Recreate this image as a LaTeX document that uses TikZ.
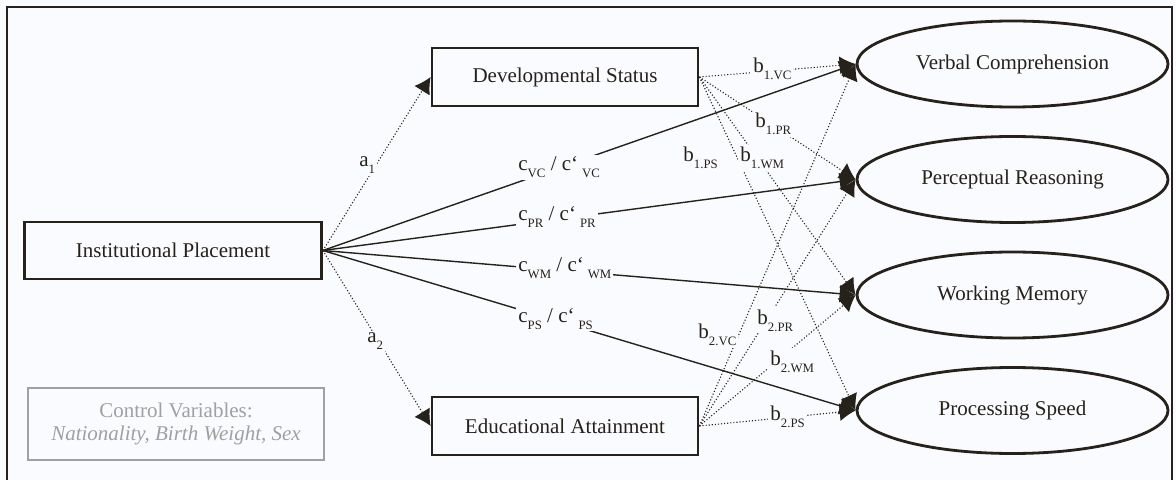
\documentclass[tikz,border=0pt]{standalone}
\usepackage{fontspec}
\setmainfont{Liberation Serif}
\usetikzlibrary{arrows.meta,shapes.geometric}
\definecolor{ink}{RGB}{38,33,26}
\definecolor{ctrlgray}{RGB}{160,160,160}
\definecolor{paper}{RGB}{250,251,254}
\newcommand\lowsub[1]{\raisebox{-3.5pt}{\fontsize{6.4}{7}\selectfont #1}}
\begin{document}
\begin{tikzpicture}[x=0.5pt, y=-0.5pt,
  font=\fontsize{10.5}{12}\selectfont,
  var/.style={rectangle, draw=ink, line width=1.4pt, fill=paper, text=ink, minimum width=133pt, minimum height=29pt},
  factor/.style={ellipse, draw=ink, line width=1.4pt, fill=paper, text=ink, minimum width=155.5pt, minimum height=43pt},
  direct/.style={-{Latex[length=8pt,width=9pt]}, draw=ink, line width=0.7pt},
  indirect/.style={-{Latex[length=8pt,width=9pt]}, draw=ink, line width=0.55pt, densely dotted},
  coef/.style={fill=paper, text=ink, inner sep=1pt, anchor=base west}
]
\useasboundingbox[fill=paper] (0,0) rectangle (1176,480);
\draw[ink, line width=1.3pt] (7,480) -- (7,7) -- (1172,7) -- (1172,480);

% Predictor and mediators
\node[var, minimum width=148.5pt, minimum height=28.5pt] (ip) at (173,250.5) {Institutional Placement};
\node[var] (dev) at (565,77) {Developmental Status};
\node[var] (edu) at (565,426) {Educational Attainment};

% Outcomes
\node[factor] (vc) at (1012.5,64) {Verbal Comprehension};
\node[factor] (pr) at (1012.5,179.5) {Perceptual Reasoning};
\node[factor] (wm) at (1012.5,295) {Working Memory};
\node[factor] (ps) at (1012.5,410.5) {Processing Speed};

% Controls
\node[rectangle, draw=ctrlgray, line width=1.2pt, text=ctrlgray, minimum width=148pt, minimum height=36pt,
  align=center, font=\fontsize{10.5}{11.5}\selectfont] (ctrl) at (176,424)
  {Control Variables:\\\textit{Nationality, Birth Weight, Sex}};

% a paths
\draw[indirect] (ip.east) -- (dev.west);
\draw[indirect] (ip.east) -- (edu.west);

% c paths
\draw[direct] (ip.east) -- (vc.west);
\draw[direct] (ip.east) -- (pr.west);
\draw[direct] (ip.east) -- (wm.west);
\draw[direct] (ip.east) -- (ps.west);

% b paths
\draw[indirect] (dev.east) -- (vc.west);
\draw[indirect] (dev.east) -- (pr.west);
\draw[indirect] (dev.east) -- (wm.west);
\draw[indirect] (dev.east) -- (ps.west);
\draw[indirect] (edu.east) -- (vc.west);
\draw[indirect] (edu.east) -- (pr.west);
\draw[indirect] (edu.east) -- (wm.west);
\draw[indirect] (edu.east) -- (ps.west);

% Coefficients
\node[coef] (a1) at (357,167) {a\lowsub{1}};
\node[coef] (a2) at (365,343) {a\lowsub{2}};
\node[coef] (cvc) at (516,171) {c\lowsub{VC} / c‘\kern2pt\lowsub{VC}};
\node[coef] (cpr) at (516,221) {c\lowsub{PR} / c‘\kern2pt\lowsub{PR}};
\node[coef] (cwm) at (516,272) {c\lowsub{WM} / c‘\kern2pt\lowsub{WM}};
\node[coef] (cps) at (516,322) {c\lowsub{PS} / c‘\kern2pt\lowsub{PS}};
\node[coef] (b1vc) at (751,73) {b\lowsub{1.VC}};
\node[coef] (b1pr) at (753,128) {b\lowsub{1.PR}};
\node[coef] (b1ps) at (681,162) {b\lowsub{1.PS}};
\node[coef] (b1wm) at (738,162) {b\lowsub{1.WM}};
\node[coef] (b2vc) at (696,338) {b\lowsub{2.VC}};
\node[coef] (b2pr) at (755,324) {b\lowsub{2.PR}};
\node[coef] (b2wm) at (768,365) {b\lowsub{2.WM}};
\node[coef] (b2ps) at (768,420) {b\lowsub{2.PS}};

\end{tikzpicture}
\end{document}
